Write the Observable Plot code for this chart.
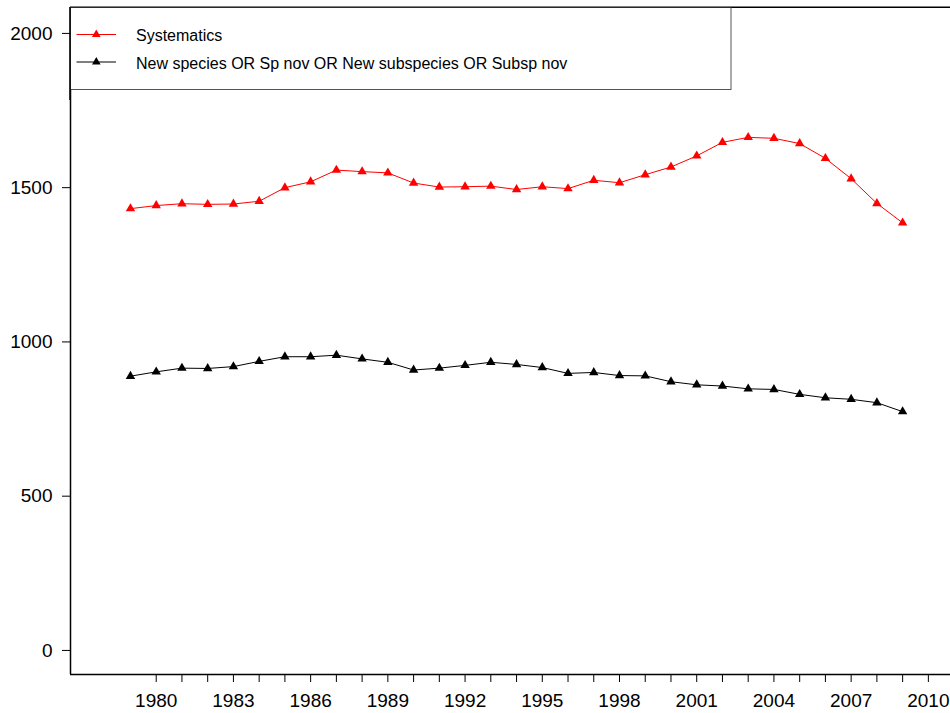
<!DOCTYPE html>
<html>
<head>
<meta charset="utf-8">
<script src="https://cdn.jsdelivr.net/npm/d3@7"></script>
<script src="https://cdn.jsdelivr.net/npm/@observablehq/plot@0.6"></script>
<style>
  html, body { margin: 0; padding: 0; background: #fff; }
  #chart { width: 950px; height: 713px; overflow: hidden; }
</style>
</head>
<body>
<div id="chart"></div>
<script>
const years = d3.range(1979, 2010);
const systematics = [1432, 1442, 1448, 1446, 1447, 1456, 1500, 1519, 1557, 1552, 1548, 1515, 1502,
  1503, 1505, 1494, 1503, 1497, 1524, 1516, 1542, 1567, 1603, 1647, 1663, 1660, 1643, 1595, 1529, 1449, 1386];
const newSpecies = [889, 903, 915, 914, 920, 937, 952, 952, 957, 945, 934, 909, 915,
  924, 934, 927, 917, 898, 901, 891, 890, 871, 861, 857, 848, 846, 830, 819, 814, 803, 774];
const seriesNames = ["Systematics", "New species OR Sp nov OR New subspecies OR Subsp nov"];
const seriesColors = ["#ff0000", "#000000"];
const yTicks = [0, 500, 1000, 1500, 2000];
const xTicks = d3.range(1980, 2011);
const xLabels = d3.range(1980, 2011, 3);

const xDomain = [1976.67, 2010.86];
const yDomain = [-78, 2084];

const rows = [];
years.forEach((yr, i) => {
  rows.push({year: yr, value: systematics[i], series: seriesNames[0]});
  rows.push({year: yr, value: newSpecies[i], series: seriesNames[1]});
});

const plot = Plot.plot({
  width: 950,
  height: 713,
  marginLeft: 70,
  marginRight: 0,
  marginTop: 7,
  marginBottom: 39,
  style: {fontFamily: "'Liberation Sans', Arial, sans-serif", fontSize: "19px", background: "#fff", color: "#000"},
  x: {domain: xDomain},
  y: {domain: yDomain},
  color: {domain: seriesNames, range: seriesColors},
  marks: [
    Plot.axisY({ticks: yTicks, tickSize: 8, tickPadding: 10, tickFormat: d => String(d), fontSize: 19, label: null, stroke: "#000"}),
    Plot.axisX({ticks: xTicks, tickSize: 8, tickFormat: () => "", label: null, stroke: "#000"}),
    Plot.axisX({ticks: xLabels, tickSize: 0, tickPadding: 19, tickFormat: d => String(d), fontSize: 19, label: null}),
    Plot.ruleX([xDomain[0]], {stroke: "#000", strokeWidth: 1.5}),
    Plot.ruleY([yDomain[0]], {stroke: "#000", strokeWidth: 1.5}),
    Plot.ruleY([yDomain[1]], {stroke: "#000", strokeWidth: 1.2}),
    Plot.line(rows, {x: "year", y: "value", z: "series", stroke: "series", strokeWidth: 1}),
    Plot.dot(rows, {x: "year", y: "value", fill: "series", symbol: "triangle", r: 3.5, stroke: null})
  ]
});

// legend inside the plot area (top-left box)
const svg = d3.select(plot);
const lg = svg.append("g")
  .attr("font-family", "'Liberation Sans', Arial, sans-serif")
  .attr("font-size", 16)
  .attr("text-anchor", "start");
lg.append("rect").attr("x", 70.5).attr("y", 7.5).attr("width", 660.5).attr("height", 82)
  .attr("fill", "#fff").attr("stroke", "#555").attr("stroke-width", 1);
const tri = d3.symbol(d3.symbolTriangle, 32)();
seriesNames.forEach((name, i) => {
  const yy = 34.5 + i * 27.5;
  lg.append("line").attr("x1", 76.5).attr("x2", 116).attr("y1", yy).attr("y2", yy)
    .attr("stroke", seriesColors[i]).attr("stroke-width", 1);
  lg.append("path").attr("d", tri).attr("transform", `translate(96.3,${yy})`).attr("fill", seriesColors[i]);
  lg.append("text").attr("x", 136).attr("y", yy + 6.5).attr("text-anchor", "start").attr("fill", "#000").text(name);
});
// redraw frame lines over the legend box
svg.append("line").attr("x1", 70).attr("x2", 950).attr("y1", 7).attr("y2", 7).attr("stroke", "#000").attr("stroke-width", 1.2);
svg.append("line").attr("x1", 70).attr("x2", 70).attr("y1", 7).attr("y2", 100).attr("stroke", "#000").attr("stroke-width", 1.5);

document.getElementById("chart").appendChild(plot);
</script>
</body>
</html>
